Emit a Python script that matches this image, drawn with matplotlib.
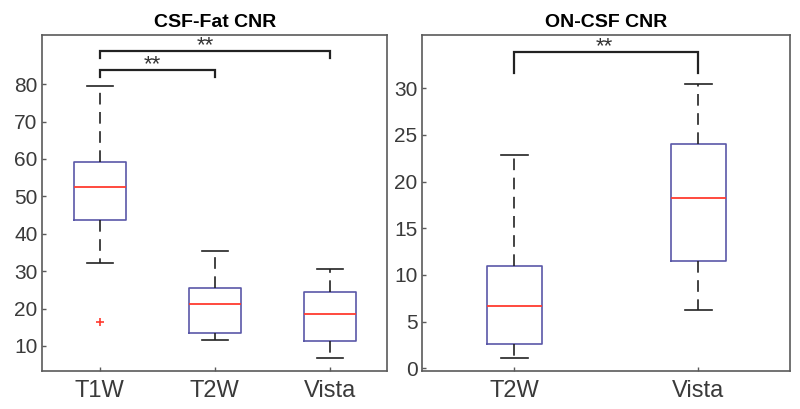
import matplotlib
matplotlib.use("Agg")
import matplotlib.pyplot as plt

# box stats: (whislo, q1, med, q3, whishi, fliers)
fat_labels = ["T1W", "T2W", "Vista"]
fat_whislo = [32.3, 11.6, 6.9]
fat_q1 = [43.6, 13.5, 11.4]
fat_med = [52.4, 21.1, 18.6]
fat_q3 = [59.2, 25.6, 24.5]
fat_whishi = [79.4, 35.4, 30.5]
fat_fliers = [[16.4], [], []]

on_labels = ["T2W", "Vista"]
on_whislo = [1.05, 6.2]
on_q1 = [2.6, 11.5]
on_med = [6.7, 18.25]
on_q3 = [10.9, 24.0]
on_whishi = [22.85, 30.5]
on_fliers = [[], []]

box_col = "#5a58a8"
med_col = "#ff3b2f"
frame_col = "#5a5a5a"
text_col = "#3a3a3a"

plt.rcParams["font.family"] = ["Liberation Sans", "DejaVu Sans"]


def make_stats(labels, lo, q1, med, q3, hi, fl):
    stats = []
    for i in range(len(labels)):
        stats.append(dict(label=labels[i], whislo=lo[i], q1=q1[i], med=med[i],
                          q3=q3[i], whishi=hi[i], fliers=fl[i]))
    return stats


def draw(ax, stats, width, capw):
    ax.bxp(stats, widths=width, capwidths=capw,
           boxprops=dict(color=box_col, linewidth=1.2),
           medianprops=dict(color=med_col, linewidth=1.3),
           whiskerprops=dict(color="#222222", linewidth=1.2, linestyle=(0, (7, 4.5))),
           capprops=dict(color="#222222", linewidth=1.2),
           flierprops=dict(marker="+", markeredgecolor=med_col, markersize=6,
                           markeredgewidth=1.2, linestyle="none"))
    for s in ax.spines.values():
        s.set_color(frame_col)
        s.set_linewidth(1.2)
    ax.tick_params(direction="in", length=3, width=1, color=frame_col,
                   labelcolor=text_col)
    ax.tick_params(axis="y", labelsize=15, pad=3.5)
    ax.tick_params(axis="x", labelsize=17, pad=6.5)


def bracket(ax, x1, x2, y, d, tx):
    ax.plot([x1, x1, x2, x2], [y - d, y, y, y - d], color="#222222", linewidth=1.6,
            solid_joinstyle="miter")
    ax.annotate("**", xy=(tx, y), xytext=(0, -0.5), textcoords="offset points",
                ha="center", va="baseline", fontsize=16, color="#333333")


fig = plt.figure(figsize=(8, 4.09), dpi=100)
ax1 = fig.add_axes([0.053, 0.093, 0.431, 0.821])
ax2 = fig.add_axes([0.528, 0.093, 0.460, 0.821])

draw(ax1, make_stats(fat_labels, fat_whislo, fat_q1, fat_med, fat_q3, fat_whishi, fat_fliers), 0.45, 0.23)
ax1.set_xlim(0.5, 3.5)
ax1.set_ylim(3.3, 93.1)
ax1.set_yticks([10, 20, 30, 40, 50, 60, 70, 80])
ax1.set_title("CSF-Fat CNR", fontsize=14, fontweight="bold", pad=6)
bracket(ax1, 1, 3, 88.9, 2.0, 1.92)
bracket(ax1, 1, 2, 83.8, 1.9, 1.46)

draw(ax2, make_stats(on_labels, on_whislo, on_q1, on_med, on_q3, on_whishi, on_fliers), 0.30, 0.15)
ax2.set_xlim(0.5, 2.5)
ax2.set_ylim(-0.3, 35.7)
ax2.set_yticks([0, 5, 10, 15, 20, 25, 30])
ax2.set_title("ON-CSF CNR", fontsize=14, fontweight="bold", pad=6)
bracket(ax2, 1, 2, 33.9, 2.3, 1.49)

fig.savefig("out.png", dpi=100)
